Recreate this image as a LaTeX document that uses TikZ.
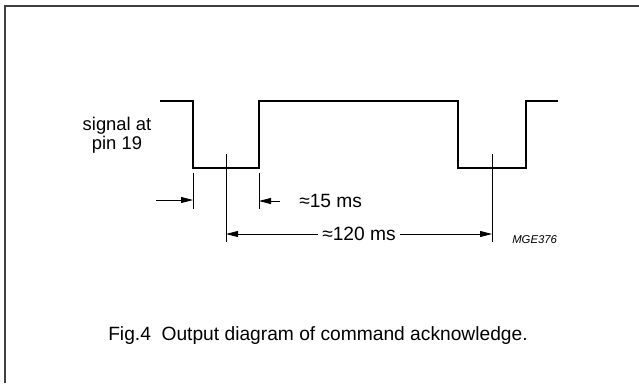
\documentclass[tikz,border=0pt]{standalone}
\usepackage{fontspec}
\setmainfont{Liberation Sans}
\usetikzlibrary{arrows.meta}
\begin{document}
\begin{tikzpicture}[x=0.75pt,y=-0.75pt,
    sig/.style={line width=1.6pt},
    dim/.style={line width=0.6pt},
    arr/.style={dim,-{Triangle[length=9pt,width=4.5pt]}},
    lbl/.style={font=\fontsize{14.4}{17}\selectfont,inner sep=0pt}]
  \useasboundingbox (0,0) rectangle (639,383);
  % frame
  \draw[line width=1.2pt,black!75] (5,383) -- (5,6) -- (639,6);
  % signal at pin 19
  \draw[sig] (160,101) -- (193,101) -- (193,168) -- (259,168) -- (259,101)
    -- (458,101) -- (458,168) -- (526,168) -- (526,101) -- (558,101);
  \node[lbl,font=\fontsize{13.8}{14.4}\selectfont,align=center] (pin) at (117,135) {signal at\\pin 19};
  % 15 ms
  \draw[dim] (193,173) -- (193,209);
  \draw[dim] (259,173) -- (259,209);
  \coordinate (a1) at (156,200);
  \coordinate (e1) at (193,200);
  \coordinate (e2) at (259,201);
  \draw[arr] (a1) -- (e1);
  \node[lbl,anchor=west] (ms15) at (299,201) {≈15 ms};
  \draw[arr] ([xshift=-14pt]ms15.west) -- (e2);
  % 120 ms
  \draw[dim] (226,154) -- (226,242);
  \draw[dim] (492,154) -- (492,242);
  \coordinate (m1) at (226,234);
  \coordinate (m2) at (492,234);
  \node[lbl] (ms120) at (359,234) {≈120 ms};
  \draw[arr] ([xshift=-3pt]ms120.west) -- (m1);
  \draw[arr] ([xshift=3pt]ms120.east) -- (m2);
  \node[inner sep=0pt,anchor=west,font=\fontsize{8.5}{10}\selectfont\itshape] (code) at (512,240) {MGE376};
  % caption
  \node[lbl,anchor=west] (cap) at (108,336) {Fig.4\ \ Output diagram of command acknowledge.};
\end{tikzpicture}
\end{document}
